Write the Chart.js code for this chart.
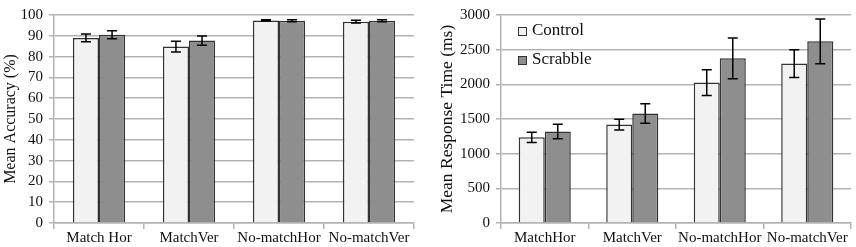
<!DOCTYPE html>
<html>
<head>
<meta charset="utf-8">
<script src="https://cdn.jsdelivr.net/npm/chart.js@4/dist/chart.umd.min.js"></script>
<style>
html,body{margin:0;padding:0;background:#fff;}
#wrap{position:relative;width:856px;height:247px;}
canvas{position:absolute;top:0;}
#c1{left:0;}
#c2{left:430px;}
</style>
</head>
<body>
<div id="wrap">
<canvas id="c1" width="430" height="247"></canvas>
<canvas id="c2" width="426" height="247"></canvas>
</div>
<script>
// ---- Data ----
const accCategories = ['Match Hor', 'MatchVer', 'No-matchHor', 'No-matchVer'];
const accControl = [89.0, 84.8, 97.4, 96.8];
const accControlErr = [1.9, 2.6, 0.3, 0.7];
const accScrabble = [90.5, 87.7, 97.2, 97.2];
const accScrabbleErr = [1.9, 2.2, 0.5, 0.5];
const accTicks = [0, 10, 20, 30, 40, 50, 60, 70, 80, 90, 100];

const rtCategories = ['MatchHor', 'MatchVer', 'No-matchHor', 'No-matchVer'];
const rtControl = [1235, 1420, 2025, 2300];
const rtControlErr = [75, 78, 185, 200];
const rtScrabble = [1320, 1580, 2375, 2620];
const rtScrabbleErr = [105, 140, 293, 322];
const rtTicks = [0, 500, 1000, 1500, 2000, 2500, 3000];

const seriesNames = ['Control', 'Scrabble'];

// ---- Styles ----
const FONT = "'Liberation Serif', 'Times New Roman', serif";
const GRID = '#b3b3b3';
const FILLS = ['#f2f2f2', '#8e8e8e'];
const EDGE = '#333333';

const errorBarPlugin = {
  id: 'errorBars',
  afterDatasetsDraw(chart) {
    const ctx = chart.ctx;
    const yScale = chart.scales.y;
    ctx.save();
    ctx.strokeStyle = '#000';
    ctx.lineWidth = 1.5;
    chart.data.datasets.forEach((ds, di) => {
      const meta = chart.getDatasetMeta(di);
      const errs = ds.errors;
      meta.data.forEach((bar, i) => {
        const v = ds.data[i], e = errs[i];
        const yTop = yScale.getPixelForValue(v + e);
        const yBot = yScale.getPixelForValue(v - e);
        const x = bar.x;
        const cap = 5;
        ctx.beginPath();
        ctx.moveTo(x, yTop); ctx.lineTo(x, yBot);
        ctx.moveTo(x - cap, yTop); ctx.lineTo(x + cap, yTop);
        ctx.moveTo(x - cap, yBot); ctx.lineTo(x + cap, yBot);
        ctx.stroke();
      });
    });
    ctx.restore();
  }
};

const innerLegendPlugin = {
  id: 'innerLegend',
  afterDraw(chart, args, opts) {
    if (!opts || !opts.show) return;
    const ctx = chart.ctx;
    ctx.save();
    ctx.font = Chart.helpers.toFont({ family: FONT, size: 17 }).string;
    ctx.textBaseline = 'middle';
    ctx.textAlign = 'left';
    chart.data.datasets.forEach((ds, i) => {
      const cy = opts.y0 + i * opts.dy;
      ctx.fillStyle = ds.backgroundColor;
      ctx.fillRect(opts.x0 - 4, cy - 4, 8, 8);
      ctx.strokeStyle = EDGE;
      ctx.lineWidth = 1;
      ctx.strokeRect(opts.x0 - 4 + 0.5, cy - 4 + 0.5, 8, 8);
      ctx.fillStyle = '#111';
      ctx.fillText(ds.label, opts.x0 + 10, cy);
    });
    ctx.restore();
  }
};

function makeChart(id, cats, c, ce, s, se, ticks, maxV, step, title, yWidth, padRight, titlePad, titleSize, catPct, legend) {
  return new Chart(document.getElementById(id), {
    type: 'bar',
    data: {
      labels: cats,
      datasets: [
        { label: seriesNames[0], data: c, errors: ce, backgroundColor: FILLS[0], borderColor: EDGE, borderWidth: 1.5, borderSkipped: 'bottom' },
        { label: seriesNames[1], data: s, errors: se, backgroundColor: FILLS[1], borderColor: EDGE, borderWidth: 1.5, borderSkipped: 'bottom' }
      ]
    },
    plugins: [errorBarPlugin, innerLegendPlugin],
    options: {
      responsive: false,
      animation: false,
      devicePixelRatio: 1,
      layout: { padding: { top: 11, right: padRight, left: 0, bottom: 0 } },
      datasets: { bar: { categoryPercentage: catPct, barPercentage: 1.0 } },
      plugins: {
        legend: { display: false },
        tooltip: { enabled: false },
        innerLegend: legend
      },
      scales: {
        x: {
          grid: { drawOnChartArea: false, drawTicks: true, tickLength: 6, color: GRID, lineWidth: 1.5, offset: true },
          border: { color: GRID, width: 1.5 },
          ticks: { font: { family: FONT, size: 15 }, color: '#111', padding: 0, maxRotation: 0, autoSkip: false },
          afterFit(sc) { sc.height = 24; }
        },
        y: {
          min: 0, max: maxV,
          afterBuildTicks(sc) { sc.ticks = ticks.map(v => ({ value: v })); },
          grid: { color: GRID, lineWidth: 1.5, tickLength: 5 },
          border: { color: GRID, width: 1.5 },
          ticks: { font: { family: FONT, size: 15 }, color: '#111', padding: 6, stepSize: step, autoSkip: false,
                   callback: (v) => String(v) },
          title: { display: true, text: title, font: { family: FONT, size: titleSize }, color: '#111', padding: { top: titlePad, bottom: 0 } },
          afterFit(sc) { sc.width = yWidth; }
        }
      }
    }
  });
}

makeChart('c1', accCategories, accControl, accControlErr, accScrabble, accScrabbleErr, accTicks, 100, 10,
  'Mean Accuracy (%)', 54, 16, 1, 16, 0.58, { show: false });
makeChart('c2', rtCategories, rtControl, rtControlErr, rtScrabble, rtScrabbleErr, rtTicks, 3000, 500,
  'Mean Response Time (ms)', 71, 5, 7, 17.5, 0.595, { show: true, x0: 92, y0: 31, dy: 29 });
</script>
</body>
</html>
